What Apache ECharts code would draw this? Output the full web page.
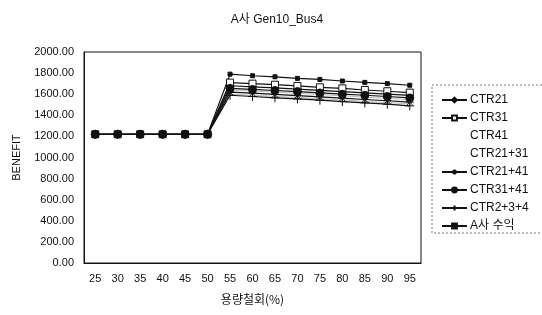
<!DOCTYPE html>
<html>
<head>
<meta charset="utf-8">
<script src="https://cdn.jsdelivr.net/npm/echarts@6/dist/echarts.min.js"></script>
<style>
html, body { margin: 0; padding: 0; background: #fff; }
#chart { width: 542px; height: 315px; }
</style>
</head>
<body>
<div id="chart"></div>
<script>
var categories = ['25','30','35','40','45','50','55','60','65','70','75','80','85','90','95'];

var ctr21    = [1220,1220,1220,1220,1220,1220,1680,1670,1660,1648,1636,1625,1612,1600,1588];
var ctr31    = [1220,1220,1220,1220,1220,1220,1710,1700,1690,1678,1665,1655,1640,1628,1615];
var ctr41    = [1220,1220,1220,1220,1220,1220,1600,1590,1580,1568,1556,1545,1532,1520,1508];
var ctr2131  = [1220,1220,1220,1220,1220,1220,1640,1630,1620,1608,1596,1585,1572,1560,1548];
var ctr2141  = [1220,1220,1220,1220,1220,1220,1620,1610,1598,1586,1574,1562,1550,1538,1525];
var ctr3141  = [1220,1220,1220,1220,1220,1220,1655,1645,1635,1625,1612,1600,1590,1578,1565];
var ctr234   = [1220,1220,1220,1220,1220,1220,1590,1578,1566,1555,1543,1530,1518,1505,1490];
var aProfit  = [1220,1220,1220,1220,1220,1220,1790,1775,1765,1750,1740,1725,1712,1700,1685];

var chart = echarts.init(document.getElementById('chart'));

var star = 'path://M0,5L10,5M5,0L5,10M1.5,1.5L8.5,8.5M8.5,1.5L1.5,8.5';
var plus = 'path://M0,5L10,5M5,0L5,10';

function line(name, data, symbol, size, extra) {
    var s = {
        name: name,
        type: 'line',
        data: data,
        symbol: symbol,
        symbolSize: size,
        showAllSymbol: true,
        lineStyle: { color: '#111', width: 1.2 },
        itemStyle: { color: '#111', borderColor: '#111', borderWidth: 1 }
    };
    if (extra) {
        for (var k in extra) s[k] = extra[k];
    }
    return s;
}

var option = {
    backgroundColor: '#fff',
    animation: false,
    title: {
        text: 'A사 Gen10_Bus4',
        left: 272,
        top: 9,
        textAlign: 'center',
        textStyle: { fontSize: 12, fontWeight: 'normal', color: '#111', fontFamily: 'Liberation Sans, Noto Sans CJK KR' }
    },
    graphic: [{
        type: 'rect',
        shape: { x: 432, y: 85, width: 112, height: 148 },
        style: { fill: 'none', stroke: '#777', lineWidth: 1, lineDash: [2, 2] }
    }],
    legend: {
        orient: 'vertical',
        left: 436,
        top: 89,
        itemWidth: 25,
        itemHeight: 6,
        itemGap: 6,
        textStyle: { fontSize: 12, color: '#111', fontFamily: 'Liberation Sans, Noto Sans CJK KR', padding: [0, 0, 0, -2] },
        data: [
            'CTR21', 'CTR31',
            { name: 'CTR41', icon: 'none' },
            { name: 'CTR21+31', icon: 'none' },
            'CTR21+41', 'CTR31+41', 'CTR2+3+4', 'A사 수익'
        ]
    },
    grid: {
        left: 84,
        right: 121,
        top: 52,
        bottom: 52,
        show: true,
        borderColor: '#111',
        borderWidth: 1
    },
    xAxis: {
        type: 'category',
        boundaryGap: true,
        data: categories,
        name: '용량철회(%)',
        nameLocation: 'middle',
        nameGap: 30,
        nameTextStyle: { fontSize: 12, color: '#111', fontFamily: 'Noto Sans CJK KR' },
        axisLine: { lineStyle: { color: '#111' } },
        axisTick: { show: false },
        axisLabel: { color: '#111', fontSize: 11, margin: 10, fontFamily: 'Liberation Sans' }
    },
    yAxis: {
        type: 'value',
        min: 0,
        max: 2000,
        interval: 200,
        name: 'BENEFIT',
        nameLocation: 'middle',
        nameGap: 62,
        nameTextStyle: { fontSize: 11, color: '#111', fontFamily: 'Liberation Sans' },
        axisLine: { show: true, lineStyle: { color: '#111' } },
        axisTick: { show: false },
        splitLine: { show: false },
        axisLabel: {
            color: '#111',
            fontSize: 11,
            margin: 10,
            fontFamily: 'Liberation Sans',
            formatter: function (v) { return v.toFixed(2); }
        }
    },
    series: [
        line('CTR21', ctr21, 'diamond', 7),
        line('CTR31', ctr31, 'rect', 7, { itemStyle: { color: '#fff', borderColor: '#111', borderWidth: 1 } }),
        line('CTR41', ctr41, 'none', 0, { lineStyle: { color: '#bbb', width: 1 }, itemStyle: { color: '#bbb' } }),
        line('CTR21+31', ctr2131, 'none', 0, { lineStyle: { color: '#bbb', width: 1 }, itemStyle: { color: '#bbb' } }),
        line('CTR21+41', ctr2141, star, 8),
        line('CTR31+41', ctr3141, 'circle', 8),
        line('CTR2+3+4', ctr234, plus, 9),
        line('A사 수익', aProfit, 'rect', 4)
    ]
};

chart.setOption(option);
window.addEventListener('resize', function () {
    chart.resize();
});
</script>
</body>
</html>
